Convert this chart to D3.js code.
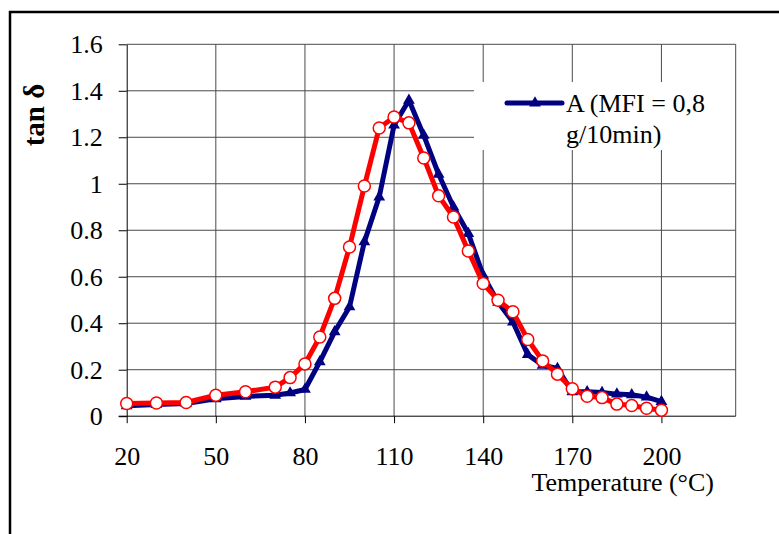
<!DOCTYPE html>
<html>
<head>
<meta charset="utf-8">
<script src="https://cdn.jsdelivr.net/npm/d3@7"></script>
<style>
  html, body { margin: 0; padding: 0; background: #fff; }
  svg { display: block; }
  text { font-family: "Liberation Serif", "Times New Roman", serif; fill: #000; }
</style>
</head>
<body>
<svg id="chart" width="779" height="534"></svg>
<script>
// temperature steps (°C)
const temps = [20, 30, 40, 50, 60, 70, 75, 80, 85, 90, 95, 100, 105, 110, 115, 120,
  125, 130, 135, 140, 145, 150, 155, 160, 165, 170, 175, 180, 185, 190, 195, 200]

// sample A (MFI = 0,8 g/10min), navy triangles
const seriesA = [0.045, 0.05, 0.055, 0.075, 0.085, 0.09, 0.1, 0.115, 0.234, 0.363, 0.47, 0.75,
  0.943, 1.252, 1.359, 1.208, 1.041, 0.9, 0.786, 0.606, 0.49, 0.405, 0.265, 0.219,
  0.205, 0.105, 0.105, 0.102, 0.095, 0.092, 0.082, 0.063]

// second sample, red circles (no legend entry)
const seriesB = [0.055, 0.057, 0.059, 0.09, 0.105, 0.125, 0.166, 0.225, 0.341, 0.507, 0.728, 0.99,
  1.24, 1.287, 1.262, 1.111, 0.948, 0.857, 0.711, 0.571, 0.499, 0.449, 0.33, 0.238,
  0.181, 0.118, 0.086, 0.08, 0.052, 0.046, 0.034, 0.026]

const xTicks = [20, 50, 80, 110, 140, 170, 200]
const yTicks = [0, 0.2, 0.4, 0.6, 0.8, 1, 1.2, 1.4, 1.6]
const yTickLabels = ['0', '0.2', '0.4', '0.6', '0.8', '1', '1.2', '1.4', '1.6']
const legendLines = ['A (MFI = 0,8', 'g/10min)']

;(function() {
  const
    left = 126.7,
    right = 735.7,
    top = 44.3,
    bottom = 416.2

  const svg = d3.select('#chart')

  const x = d3.scaleLinear().domain([20, 225]).range([left, right])
  const y = d3.scaleLinear().domain([0, 1.6]).range([bottom, top])

  // outer frame (only top and left edges show)
  svg.append('path')
    .attr('d', 'M10,560V12H800')
    .attr('fill', 'none')
    .attr('stroke', '#000')
    .attr('stroke-width', 2.5)

  // grid
  const grid = svg.append('g').attr('stroke', '#4a4a4a').attr('stroke-width', 1)
  grid.selectAll('line.h')
    .data(yTicks.filter(d => d > 0))
    .enter().append('line')
    .attr('x1', left).attr('x2', right)
    .attr('y1', d => y(d)).attr('y2', d => y(d))
  grid.selectAll('line.v')
    .data(xTicks.filter(d => d > 20))
    .enter().append('line')
    .attr('y1', top).attr('y2', bottom)
    .attr('x1', d => x(d)).attr('x2', d => x(d))

  // legend backdrop hides the grid behind it
  svg.append('rect')
    .attr('x', 474).attr('y', 82)
    .attr('width', right - 474).attr('height', 68)
    .attr('fill', '#fff')

  svg.append('line')
    .attr('x1', right).attr('x2', right)
    .attr('y1', top).attr('y2', bottom)
    .attr('stroke', '#4a4a4a')

  // axes
  const yAxis = svg.append('g')
    .attr('transform', 'translate(' + left + ',0)')
    .call(d3.axisLeft(y)
      .tickValues(yTicks)
      .tickSize(8)
      .tickSizeOuter(0)
      .tickPadding(16)
      .tickFormat((d, i) => yTickLabels[i]))
  yAxis.select('.domain').attr('stroke', '#000')
  yAxis.selectAll('text').attr('font-size', 26).attr('font-family', null)

  const xAxis = svg.append('g')
    .attr('transform', 'translate(0,' + bottom + ')')
    .call(d3.axisBottom(x)
      .tickValues(xTicks)
      .tickSize(7)
      .tickSizeOuter(0)
      .tickPadding(23)
      .tickFormat(d3.format('d')))
  xAxis.select('.domain').attr('d', 'M' + (left - 8) + ',0H' + right).attr('stroke', '#000')
  xAxis.selectAll('text').attr('font-size', 26).attr('font-family', null)

  svg.append('text')
    .attr('x', 714).attr('y', 491)
    .attr('text-anchor', 'end')
    .attr('font-size', 26)
    .text('Temperature (°C)')

  svg.append('text')
    .attr('transform', 'translate(43.5,115) rotate(-90)')
    .attr('text-anchor', 'middle')
    .attr('font-size', 29)
    .attr('font-weight', 'bold')
    .text('tan δ')

  // series
  const line = d3.line()
    .x(d => x(d[0]))
    .y(d => y(d[1]))

  const tri = d3.symbol().type(d3.symbolTriangle).size(60)

  const ptsA = temps.map((t, i) => [t, seriesA[i]])
  const ptsB = temps.map((t, i) => [t, seriesB[i]])

  svg.append('path')
    .datum(ptsA)
    .attr('d', line)
    .attr('fill', 'none')
    .attr('stroke', '#000080')
    .attr('stroke-width', 5)
    .attr('stroke-linejoin', 'round')

  svg.selectAll('path.triA')
    .data(ptsA)
    .enter().append('path')
    .attr('class', 'triA')
    .attr('d', tri)
    .attr('transform', d => 'translate(' + x(d[0]) + ',' + y(d[1]) + ')')
    .attr('fill', '#000080')

  svg.append('path')
    .datum(ptsB)
    .attr('d', line)
    .attr('fill', 'none')
    .attr('stroke', '#ff0000')
    .attr('stroke-width', 5)
    .attr('stroke-linejoin', 'round')

  svg.selectAll('circle.ptB')
    .data(ptsB)
    .enter().append('circle')
    .attr('class', 'ptB')
    .attr('cx', d => x(d[0]))
    .attr('cy', d => y(d[1]))
    .attr('r', 6)
    .attr('fill', '#fff')
    .attr('stroke', '#ff0000')
    .attr('stroke-width', 1.5)

  // legend
  svg.append('line')
    .attr('x1', 507).attr('x2', 562)
    .attr('y1', 103).attr('y2', 103)
    .attr('stroke', '#000080')
    .attr('stroke-width', 5)
    .attr('stroke-linecap', 'round')
  svg.append('path')
    .attr('d', tri)
    .attr('transform', 'translate(535,103)')
    .attr('fill', '#000080')

  svg.append('g').selectAll('text')
    .data(legendLines)
    .enter().append('text')
    .attr('x', 566)
    .attr('y', (d, i) => 111.5 + i * 31)
    .attr('font-size', 26)
    .text(d => d)
})()
</script>
</body>
</html>
